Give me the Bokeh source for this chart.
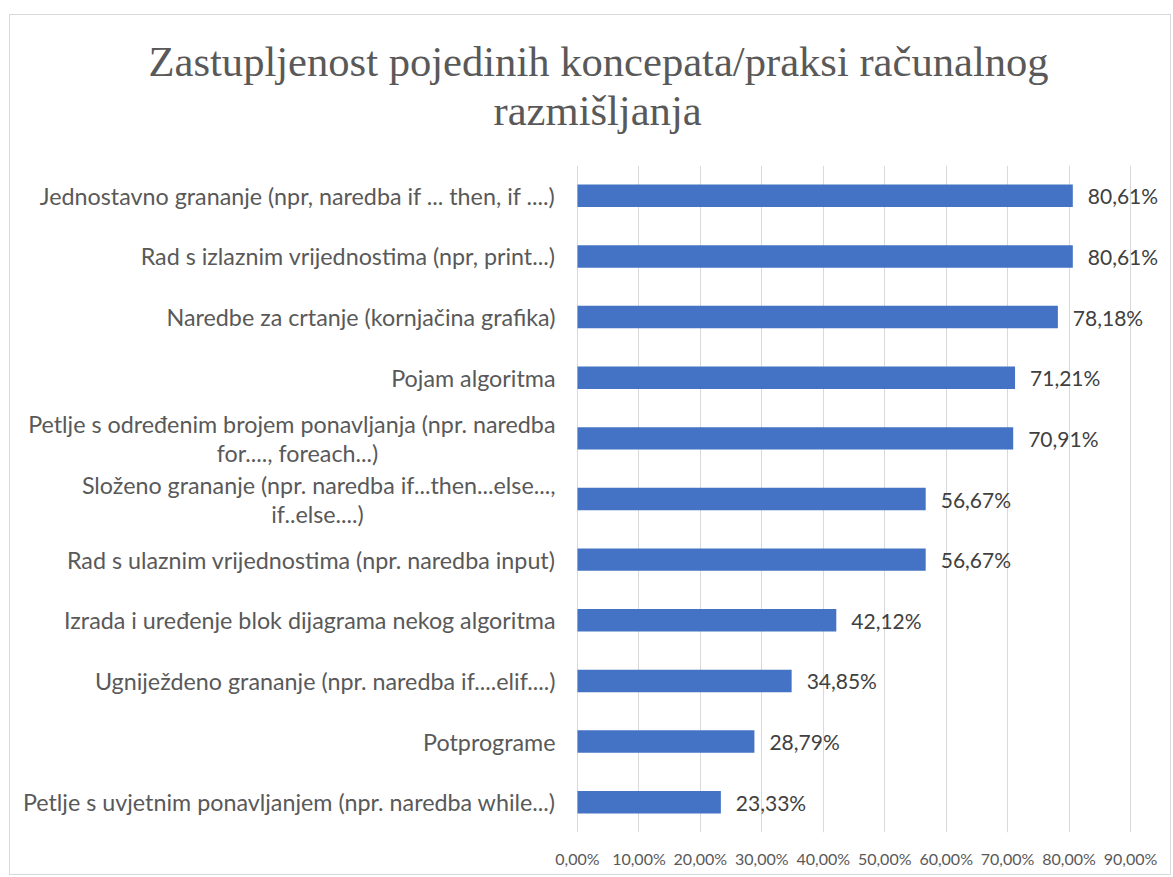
from bokeh.plotting import figure
from bokeh.models import FactorRange, Range1d, ColumnDataSource, LabelSet, FixedTicker, Title
from bokeh.core.properties import value
from bokeh.embed import file_html
from bokeh.resources import INLINE

# ---- data ----
categories = [
    "Jednostavno grananje (npr, naredba if ... then, if ....)",
    "Rad s izlaznim vrijednostima (npr, print...)",
    "Naredbe za crtanje (kornjačina grafika)",
    "Pojam algoritma",
    "Petlje s određenim brojem ponavljanja (npr. naredba\nfor...., foreach...)",
    "Složeno grananje (npr. naredba if...then...else...,\nif..else....)",
    "Rad s ulaznim vrijednostima (npr. naredba input)",
    "Izrada i uređenje blok dijagrama nekog algoritma",
    "Ugniježdeno grananje (npr. naredba if....elif....)",
    "Potprograme",
    "Petlje s uvjetnim ponavljanjem (npr. naredba while...)",
]
values = [80.61, 80.61, 78.18, 71.21, 70.91, 56.67, 56.67, 42.12, 34.85, 28.79, 23.33]
x_ticks = [0, 10, 20, 30, 40, 50, 60, 70, 80, 90]
x_tick_labels = ["0,00%", "10,00%", "20,00%", "30,00%", "40,00%",
                 "50,00%", "60,00%", "70,00%", "80,00%", "90,00%"]
title_lines = ["Zastupljenost pojedinih koncepata/praksi računalnog", "razmišljanja"]

# ---- styling ----
TEXT = "#595959"
BAR = "#4472C4"
GRID = "#D9D9D9"
FONT = "Lato"
PX_PER_UNIT = 553 / 90.0      # screen pixels per percentage point
LEFT_PX = 567                 # space left of the 0% line for category labels
RIGHT_PX = 595                # space right of the 0% line

value_labels = [f"{v:.2f}%".replace(".", ",") for v in values]
single = [c for c in categories if "\n" not in c]
multi = [c for c in categories if "\n" in c]

src = ColumnDataSource(dict(cat=categories, val=values, lab=value_labels))
src_single = ColumnDataSource(dict(cat=single, txt=single))
src_l1 = ColumnDataSource(dict(cat=multi, txt=[c.split("\n")[0] for c in multi]))
src_l2 = ColumnDataSource(dict(cat=multi, txt=[c.split("\n")[1] for c in multi],
                               off=[-280, -260]))

p = figure(
    width=1162, height=861,
    y_range=FactorRange(factors=list(reversed(categories))),
    x_range=Range1d(-LEFT_PX / PX_PER_UNIT, RIGHT_PX / PX_PER_UNIT),
    output_backend="svg", toolbar_location=None,
    min_border_left=0, min_border_right=0, min_border_top=150, min_border_bottom=44,
    margin=(14, 0, 0, 9),
    styles={"border": "1px solid #D9D9D9"},
)
p.title = None
# spacer between the plot area and the two title lines
p.add_layout(Title(text=" ", text_font_size="1px", standoff=29), "above")
for line, off in [(title_lines[1], 483), (title_lines[0], 138)]:
    p.add_layout(Title(text=line, align="left", offset=off,
                       text_font="Liberation Serif",
                       text_font_size="42.6px", text_font_style="normal",
                       text_color=TEXT, standoff=0), "above")

p.hbar(y="cat", right="val", left=0, height=0.37, source=src,
       fill_color=BAR, line_color=None)

p.outline_line_color = None
p.ygrid.grid_line_color = None
p.xgrid.grid_line_color = GRID
p.xgrid.grid_line_width = 1
p.xgrid.ticker = FixedTicker(ticks=x_ticks)

p.yaxis.visible = False
ax = p.xaxis[0]
ax.ticker = FixedTicker(ticks=x_ticks)
ax.major_label_overrides = {t_: l for t_, l in zip(x_ticks, x_tick_labels)}
ax.axis_line_color = None
ax.major_tick_line_color = None
ax.minor_tick_line_color = None
ax.major_label_standoff = 10
ax.major_label_text_font = FONT
ax.major_label_text_font_size = "16px"
ax.major_label_text_color = TEXT

common = dict(text_font=value(FONT), text_color=TEXT, text_baseline="middle",
              text_font_size="23.3px")
p.add_layout(LabelSet(x=0, y="cat", text="txt", source=src_single, text_align="right",
                      x_offset=-22, **common))
p.add_layout(LabelSet(x=0, y="cat", text="txt", source=src_l1, text_align="right",
                      x_offset=-22, y_offset=14, **common))
p.add_layout(LabelSet(x=0, y="cat", text="txt", source=src_l2, text_align="center",
                      x_offset="off", y_offset=-15, **common))
p.add_layout(LabelSet(x="val", y="cat", text="lab", source=src, text_align="left",
                      x_offset=15, text_font_size="21px", text_font=value(FONT),
                      text_color="#404040", text_baseline="middle"))

open("out.html", "w").write(file_html(p, INLINE))
